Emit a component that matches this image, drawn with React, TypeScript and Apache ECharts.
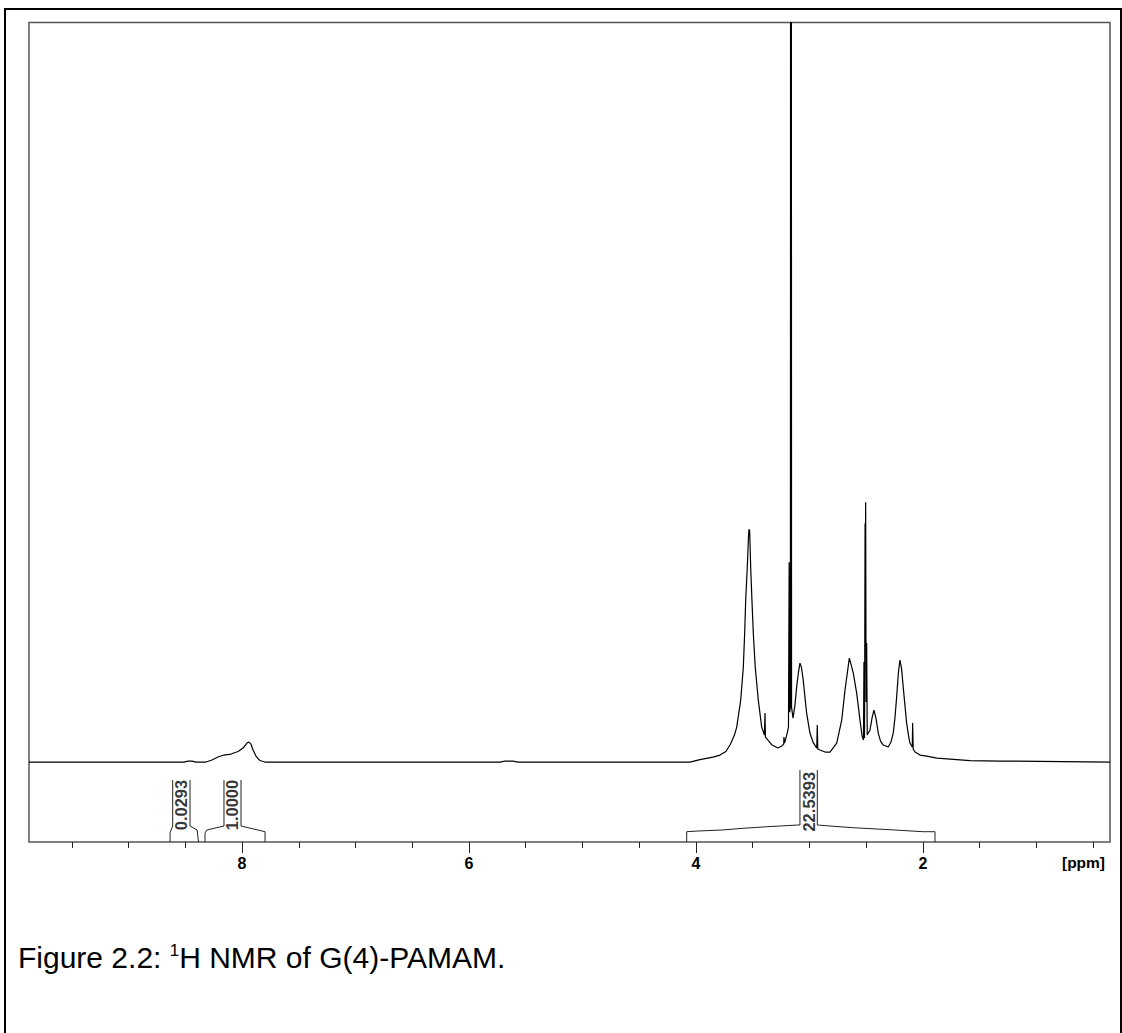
import React, { useEffect, useRef } from "react";
import * as echarts from "echarts";

// ---- Spectrum (chemical shift in ppm, intensity in arbitrary units) ----
const specPpm = [
  9.877, 8.811, 8.511, 8.476, 8.441, 8.405, 8.317, 8.265, 8.212, 8.159, 8.097, 8.035, 7.991, 7.956, 7.939,
  7.921, 7.903, 7.877, 7.842, 7.798, 5.727, 5.683, 5.613, 5.568, 4.053, 3.965, 3.85, 3.789, 3.736, 3.696,
  3.661, 3.641, 3.606, 3.583, 3.571, 3.562, 3.548, 3.538, 3.533, 3.527, 3.518, 3.507, 3.495, 3.478, 3.451,
  3.421, 3.397, 3.392, 3.388, 3.366, 3.33, 3.278, 3.245, 3.227, 3.225, 3.22, 3.198, 3.185, 3.179, 3.174,
  3.168, 3.163, 3.158, 3.145, 3.128, 3.113, 3.097, 3.084, 3.071, 3.055, 3.04, 3.025, 2.996, 2.969, 2.936,
  2.931, 2.927, 2.908, 2.863, 2.819, 2.76, 2.716, 2.687, 2.649, 2.632, 2.614, 2.584, 2.555, 2.535, 2.524,
  2.52, 2.515, 2.51, 2.508, 2.505, 2.501, 2.496, 2.491, 2.482, 2.467, 2.449, 2.432, 2.414, 2.394, 2.374,
  2.35, 2.306, 2.282, 2.262, 2.247, 2.232, 2.216, 2.203, 2.189, 2.174, 2.159, 2.144, 2.128, 2.115, 2.094,
  2.091, 2.086, 2.07, 2.026, 1.967, 1.877, 1.586, 1.322, 0.352,
];
const specInt = [
  0, 0, 0, 1, 1, 0, 0, 2, 5, 7, 8, 10.5, 14, 19, 20,
  18, 12, 6, 1.5, 0, 0, 1, 1, 0, 0, 2.5, 5, 7, 10.5, 18,
  27, 35, 62, 95, 129, 162, 195, 224, 233, 231, 195, 162, 129, 95, 62,
  35, 27, 49, 25, 22, 17, 14, 16, 18, 25, 19, 28, 35, 200, 50,
  55, 3000, 55, 44, 57, 75, 90, 99, 95, 82, 65, 49, 29, 20, 14,
  37, 13, 12, 10, 10, 19, 42, 72, 104, 97, 89, 69, 42, 25, 22,
  100, 24, 239, 160, 260, 60, 119, 27, 29, 32, 44, 52, 44, 29, 21,
  17, 15, 20, 29, 44, 65, 90, 102, 94, 75, 57, 39, 27, 19, 15,
  39, 13, 10, 7, 6, 4, 1.5, 1, 0,
];

// ---- Axis ----
const xMin = 0.352;
const xMax = 9.877;
const majorTicks = [2, 4, 6, 8];
const minorTicks = [0.5, 1, 1.5, 2.5, 3, 3.5, 4.5, 5, 5.5, 6.5, 7, 7.5, 8.5, 9, 9.5];
const yMin = -80;
const yMax = 740;

// ---- Integrals ----
const integralValues = ["0.0293", "1.0000", "22.5393"];
const integralLabelPpm = [8.535, 8.084, 3.007];
const integralLabelY = [-43, -43, -39.7];
const integralLeftPpm = [
  [8.634, 8.634, 8.611, 8.611],
  [8.326, 8.326, 8.311, 8.159, 8.159],
  [4.082, 4.082, 3.982, 3.771, 3.586, 3.374, 3.101, 3.084, 3.084],
];
const integralLeftY = [
  [-80, -70.7, -64, -18],
  [-80, -71, -68, -64, -18],
  [-80, -69.7, -69, -68, -66.3, -64.7, -63, -63, -8],
];
const integralRightPpm = [
  [8.458, 8.458, 8.396, 8.383],
  [8.009, 8.009, 7.797, 7.797],
  [2.931, 2.931, 2.819, 2.617, 2.405, 2.203, 2.0, 1.894, 1.894],
];
const integralRightY = [
  [-18, -64, -68, -80],
  [-18, -64, -69.7, -80],
  [-8, -63, -64, -65.7, -67, -68.3, -69.7, -69.7, -80],
];

const captionText = "Figure 2.2: {sup|1}H NMR of G(4)-PAMAM.";

const FONT = "Liberation Sans, Arial, sans-serif";
const zip = (a: number[], b: number[]) => a.map((v, i) => [v, b[i]]);

export default function App() {
  const ref = useRef<HTMLDivElement>(null);
  useEffect(() => {
    document.body.style.margin = "0";
    const chart = echarts.init(ref.current!, null, { renderer: "svg" });
    const integralSeries: any[] = [];
    for (let i = 0; i < integralValues.length; i++) {
      [zip(integralLeftPpm[i], integralLeftY[i]), zip(integralRightPpm[i], integralRightY[i])].forEach((d) => {
        integralSeries.push({
          type: "line",
          data: d,
          symbol: "none",
          silent: true,
          lineStyle: { color: "#222", width: 1 },
          xAxisIndex: 0,
          yAxisIndex: 0,
        });
      });
    }
    const option: any = {
      animation: false,
      backgroundColor: "#fff",
      grid: {
        left: 29,
        top: 22.5,
        width: 1081,
        height: 819.5,
        show: true,
        borderColor: "#555",
        borderWidth: 1.5,
        backgroundColor: "transparent",
      },
      xAxis: [
        {
          type: "value",
          inverse: true,
          min: xMin,
          max: xMax,
          position: "bottom",
          axisLine: { show: false, onZero: false },
          splitLine: { show: false },
          axisTick: { show: true, length: 6, customValues: minorTicks, lineStyle: { color: "#222", width: 1 } },
          axisLabel: { show: false },
        },
        {
          type: "value",
          inverse: true,
          min: xMin,
          max: xMax,
          position: "bottom",
          offset: 0,
          axisLine: { show: false, onZero: false },
          splitLine: { show: false },
          axisTick: { show: true, length: 11, customValues: majorTicks, lineStyle: { color: "#222", width: 1 } },
          axisLabel: {
            show: true,
            customValues: majorTicks,
            margin: 13,
            fontFamily: FONT,
            fontWeight: "bold",
            fontSize: 16,
            color: "#000",
          },
        },
      ],
      yAxis: { type: "value", min: yMin, max: yMax, show: false },
      series: [
        {
          type: "line",
          data: zip(specPpm, specInt),
          symbol: "none",
          silent: true,
          clip: true,
          lineStyle: { color: "#000", width: 1.2 },
        },
        ...integralSeries,
        {
          type: "scatter",
          symbolSize: 0,
          silent: true,
          data: integralValues.map((t, i) => [integralLabelPpm[i], integralLabelY[i], t]),
          label: {
            show: true,
            position: "inside",
            rotate: 90,
            formatter: (p: any) => p.value[2],
            fontFamily: FONT,
            fontWeight: "bold",
            fontSize: 16.5,
            color: "#000",
          },
        },
      ],
      graphic: [
        {
          type: "rect",
          shape: { x: 5, y: 9, width: 1116, height: 1100 },
          style: { fill: "none", stroke: "#000", lineWidth: 2 },
          silent: true,
        },
        {
          type: "text",
          x: 1083.5,
          y: 862,
          style: {
            text: "[ppm]",
            fontFamily: FONT,
            fontWeight: "bold",
            fontSize: 15.5,
            fill: "#000",
            align: "center",
            verticalAlign: "middle",
          },
        },
        {
          type: "text",
          x: 18,
          y: 957,
          style: {
            text: captionText,
            fontFamily: FONT,
            fontSize: 30,
            fill: "#000",
            align: "left",
            verticalAlign: "middle",
            rich: {
              sup: { fontSize: 17, verticalAlign: "top", fontFamily: FONT, fill: "#000" },
            },
          },
        },
      ],
    };
    chart.setOption(option);
    return () => chart.dispose();
  }, []);
  return (
    <div
      ref={ref}
      style={{ position: "absolute", left: 0, top: 0, width: 1122, height: 1033 }}
    />
  );
}
